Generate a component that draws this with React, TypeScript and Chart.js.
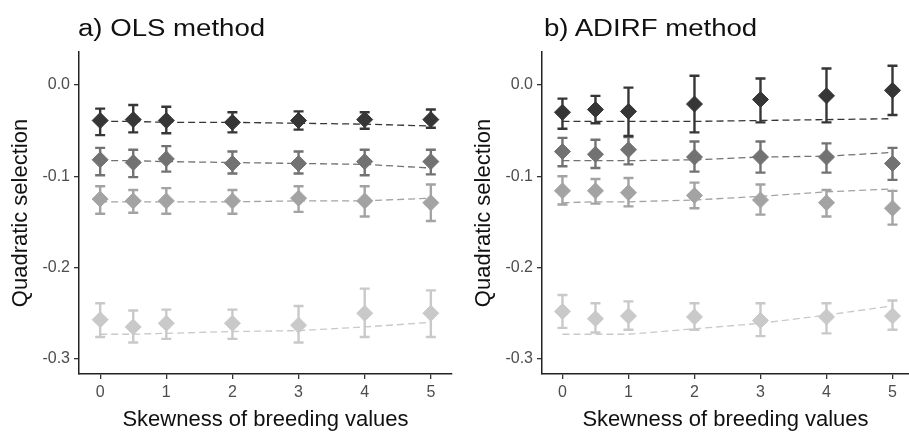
import React, { useEffect, useRef } from "react";
import { Chart, registerables } from "chart.js";
Chart.register(...registerables);

const FONT = "'Liberation Sans', Arial, sans-serif";

const skewness = [0, 0.5, 1, 2, 3, 4, 5];
const xTickValues = [0, 1, 2, 3, 4, 5];
const yTickValues = [-0.3, -0.2, -0.1, 0.0];
const seriesColors = ["#363636", "#727272", "#a3a3a3", "#c9c9c9"];

const panelTitles = ["a) OLS method", "b) ADIRF method"];
const xAxisTitle = "Skewness of breeding values";
const yAxisTitle = "Quadratic selection";

// a) OLS method
const olsMean1 = [-0.039, -0.038, -0.039, -0.041, -0.039, -0.038, -0.038];
const olsLo1 = [-0.055, -0.052, -0.053, -0.052, -0.049, -0.048, -0.047];
const olsHi1 = [-0.026, -0.022, -0.024, -0.030, -0.029, -0.030, -0.027];
const olsFit1 = [-0.040, -0.040, -0.041, -0.041, -0.042, -0.043, -0.045];

const olsMean2 = [-0.082, -0.085, -0.081, -0.086, -0.086, -0.084, -0.084];
const olsLo2 = [-0.099, -0.101, -0.095, -0.097, -0.097, -0.099, -0.098];
const olsHi2 = [-0.069, -0.071, -0.067, -0.073, -0.073, -0.071, -0.071];
const olsFit2 = [-0.083, -0.083, -0.084, -0.085, -0.086, -0.087, -0.091];

const olsMean3 = [-0.125, -0.127, -0.127, -0.127, -0.124, -0.127, -0.129];
const olsLo3 = [-0.141, -0.140, -0.141, -0.141, -0.139, -0.144, -0.149];
const olsHi3 = [-0.111, -0.115, -0.113, -0.115, -0.111, -0.111, -0.109];
const olsFit3 = [-0.128, -0.128, -0.128, -0.128, -0.127, -0.127, -0.124];

const olsMean4 = [-0.257, -0.265, -0.261, -0.261, -0.263, -0.250, -0.250];
const olsLo4 = [-0.276, -0.282, -0.278, -0.278, -0.282, -0.276, -0.276];
const olsHi4 = [-0.239, -0.247, -0.246, -0.246, -0.242, -0.223, -0.225];
const olsFit4 = [-0.273, -0.273, -0.272, -0.270, -0.269, -0.265, -0.260];

// b) ADIRF method
const adiMean1 = [-0.030, -0.027, -0.029, -0.021, -0.016, -0.012, -0.006];
const adiLo1 = [-0.048, -0.042, -0.056, -0.052, -0.041, -0.041, -0.033];
const adiHi1 = [-0.015, -0.012, -0.003, 0.010, 0.007, 0.018, 0.021];
const adiFit1 = [-0.040, -0.040, -0.040, -0.040, -0.039, -0.038, -0.037];

const adiMean2 = [-0.073, -0.076, -0.071, -0.079, -0.079, -0.079, -0.086];
const adiLo2 = [-0.089, -0.091, -0.087, -0.095, -0.096, -0.096, -0.104];
const adiHi2 = [-0.058, -0.060, -0.057, -0.062, -0.062, -0.064, -0.069];
const adiFit2 = [-0.083, -0.083, -0.083, -0.082, -0.079, -0.078, -0.074];

const adiMean3 = [-0.116, -0.116, -0.118, -0.121, -0.126, -0.129, -0.135];
const adiLo3 = [-0.131, -0.130, -0.133, -0.135, -0.142, -0.144, -0.153];
const adiHi3 = [-0.100, -0.103, -0.102, -0.107, -0.109, -0.115, -0.116];
const adiFit3 = [-0.129, -0.128, -0.128, -0.126, -0.122, -0.117, -0.114];

const adiMean4 = [-0.248, -0.256, -0.253, -0.254, -0.258, -0.254, -0.253];
const adiLo4 = [-0.266, -0.271, -0.268, -0.268, -0.275, -0.272, -0.268];
const adiHi4 = [-0.230, -0.239, -0.237, -0.239, -0.239, -0.239, -0.236];
const adiFit4 = [-0.273, -0.273, -0.273, -0.267, -0.261, -0.252, -0.242];

const olsSeries = [
  { mean: olsMean1, lo: olsLo1, hi: olsHi1, fit: olsFit1 },
  { mean: olsMean2, lo: olsLo2, hi: olsHi2, fit: olsFit2 },
  { mean: olsMean3, lo: olsLo3, hi: olsHi3, fit: olsFit3 },
  { mean: olsMean4, lo: olsLo4, hi: olsHi4, fit: olsFit4 },
];
const adiSeries = [
  { mean: adiMean1, lo: adiLo1, hi: adiHi1, fit: adiFit1 },
  { mean: adiMean2, lo: adiLo2, hi: adiHi2, fit: adiFit2 },
  { mean: adiMean3, lo: adiLo3, hi: adiHi3, fit: adiFit3 },
  { mean: adiMean4, lo: adiLo4, hi: adiHi4, fit: adiFit4 },
];

const errorBarPlugin = {
  id: "errorBars",
  beforeDatasetDraw(chart: any, args: any) {
    const ds = chart.data.datasets[args.index];
    if (!ds.errLo) return;
    const { ctx } = chart;
    const xs = chart.scales.x;
    const ys = chart.scales.y;
    ctx.save();
    ctx.strokeStyle = ds.backgroundColor;
    ctx.lineWidth = 2.4;
    ds.data.forEach((p: any, i: number) => {
      const px = xs.getPixelForValue(p.x);
      const yl = ys.getPixelForValue(ds.errLo[i]);
      const yh = ys.getPixelForValue(ds.errHi[i]);
      ctx.beginPath();
      ctx.moveTo(px, yl);
      ctx.lineTo(px, yh);
      ctx.moveTo(px - 5, yl);
      ctx.lineTo(px + 5, yl);
      ctx.moveTo(px - 5, yh);
      ctx.lineTo(px + 5, yh);
      ctx.stroke();
    });
    ctx.restore();
  },
};

type PanelProps = {
  series: { mean: number[]; lo: number[]; hi: number[]; fit: number[] }[];
  width: number;
  xMin: number;
  xMax: number;
  yAxisWidth: number;
  yTitlePad: number;
  padRight: number;
};

function Panel({ series, width, xMin, xMax, yAxisWidth, yTitlePad, padRight }: PanelProps) {
  const ref = useRef<HTMLCanvasElement | null>(null);
  useEffect(() => {
    if (!ref.current) return;
    const datasets: any[] = [];
    series.forEach((s, k) => {
      datasets.push({
        type: "scatter",
        data: skewness.map((x, i) => ({ x, y: s.fit[i] })),
        showLine: true,
        borderColor: seriesColors[k],
        borderWidth: 1.3,
        borderDash: [7, 4],
        pointRadius: 0,
        order: 10,
      });
    });
    series.forEach((s, k) => {
      datasets.push({
        type: "scatter",
        data: skewness.map((x, i) => ({ x, y: s.mean[i] })),
        errLo: s.lo,
        errHi: s.hi,
        showLine: false,
        backgroundColor: seriesColors[k],
        borderColor: seriesColors[k],
        borderWidth: 1,
        pointStyle: "rectRot",
        pointRadius: 8,
        order: 1,
      });
    });
    const chart = new Chart(ref.current, {
      type: "scatter",
      data: { datasets },
      plugins: [errorBarPlugin],
      options: {
        animation: false,
        responsive: false,
        devicePixelRatio: 1,
        layout: { padding: { top: 52, right: padRight, bottom: 0, left: 0 } },
        plugins: { legend: { display: false }, tooltip: { enabled: false } },
        scales: {
          x: {
            type: "linear",
            min: xMin,
            max: xMax,
            afterBuildTicks: (s: any) => {
              s.ticks = xTickValues.map((v) => ({ value: v }));
            },
            afterFit: (s: any) => {
              s.height = 63;
            },
            ticks: {
              font: { size: 16, family: FONT },
              color: "#4d4d4d",
              padding: 4,
              maxRotation: 0,
              autoSkip: false,
              callback: (v: any) => String(v),
            },
            grid: { drawOnChartArea: false, drawTicks: true, tickLength: 5, color: "#333333", lineWidth: 1.3 },
            border: { display: true, color: "#222222", width: 1.5 },
            title: {
              display: true,
              text: xAxisTitle,
              font: { size: 22, family: FONT },
              color: "#111111",
              padding: { top: 0, bottom: 4 },
            },
          },
          y: {
            type: "linear",
            min: -0.3165,
            max: 0.036,
            afterBuildTicks: (s: any) => {
              s.ticks = yTickValues.map((v) => ({ value: v }));
            },
            afterFit: (s: any) => {
              s.width = yAxisWidth;
            },
            ticks: {
              font: { size: 16, family: FONT },
              color: "#4d4d4d",
              padding: 4,
              autoSkip: false,
              callback: (v: any) => (v === 0 ? "0.0" : Number(v).toFixed(1)),
            },
            grid: { drawOnChartArea: false, drawTicks: true, tickLength: 5, color: "#333333", lineWidth: 1.3 },
            border: { display: true, color: "#222222", width: 1.5 },
            title: {
              display: true,
              text: yAxisTitle,
              font: { size: 22, family: FONT },
              color: "#111111",
              padding: { top: yTitlePad, bottom: 0 },
            },
          },
        },
      } as any,
    });
    return () => chart.destroy();
  }, []);
  return <canvas ref={ref} width={width} height={437} style={{ display: "block", width, height: 437 }} />;
}

const titleStyle: React.CSSProperties = {
  position: "absolute",
  top: 17,
  fontFamily: FONT,
  fontSize: 23,
  lineHeight: "23px",
  color: "#111111",
  transform: "scaleX(1.2)",
  transformOrigin: "left top",
  whiteSpace: "nowrap",
};

export default function App() {
  return (
    <div style={{ position: "fixed", left: 0, top: 0, width: 909, height: 437, background: "#ffffff", overflow: "hidden" }}>
      <div style={{ position: "absolute", left: 0, top: 0 }}>
        <Panel series={olsSeries} width={462} xMin={-0.32} xMax={5.32} yAxisWidth={79} yTitlePad={8} padRight={10} />
      </div>
      <div style={{ position: "absolute", left: 455, top: 0 }}>
        <Panel series={adiSeries} width={470} xMin={-0.31} xMax={5.25} yAxisWidth={87} yTitlePad={16} padRight={16} />
      </div>
      <div style={{ ...titleStyle, left: 78 }}>{panelTitles[0]}</div>
      <div style={{ ...titleStyle, left: 544 }}>{panelTitles[1]}</div>
    </div>
  );
}
